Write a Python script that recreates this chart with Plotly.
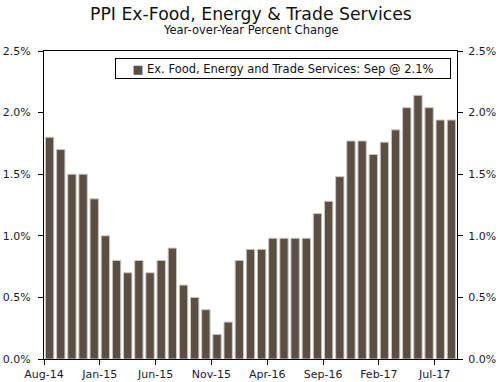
import plotly.graph_objects as go

months = ["Aug-14","Sep-14","Oct-14","Nov-14","Dec-14",
          "Jan-15","Feb-15","Mar-15","Apr-15","May-15","Jun-15","Jul-15","Aug-15","Sep-15","Oct-15","Nov-15","Dec-15",
          "Jan-16","Feb-16","Mar-16","Apr-16","May-16","Jun-16","Jul-16","Aug-16","Sep-16","Oct-16","Nov-16","Dec-16",
          "Jan-17","Feb-17","Mar-17","Apr-17","May-17","Jun-17","Jul-17","Aug-17"]
values = [1.8, 1.7, 1.5, 1.5, 1.3,
          1.0, 0.8, 0.7, 0.8, 0.7, 0.8, 0.9, 0.6, 0.5, 0.4, 0.2, 0.3,
          0.8, 0.89, 0.89, 0.98, 0.98, 0.98, 0.98, 1.18, 1.28, 1.48, 1.77, 1.77,
          1.66, 1.76, 1.86, 2.04, 2.14, 2.04, 1.94, 1.94]
tick_labels = ["Aug-14", "Jan-15", "Jun-15", "Nov-15", "Apr-16", "Sep-16", "Feb-17", "Jul-17"]
y_ticks = [0, 0.5, 1.0, 1.5, 2.0, 2.5]
y_tick_text = ["0.0%", "0.5%", "1.0%", "1.5%", "2.0%", "2.5%"]
series_name = "Ex. Food, Energy and Trade Services: Sep @ 2.1%"
title = "PPI Ex-Food, Energy & Trade Services"
subtitle = "Year-over-Year Percent Change"

bar_color = "#5b4f44"
x = list(range(len(values)))
tick_pos = [months.index(m) - 0.5 for m in tick_labels]

font = "DejaVu Sans"
fig = go.Figure()
fig.add_trace(go.Bar(
    x=x, y=values, name=series_name, showlegend=False,
    marker=dict(color=bar_color, line=dict(color="#cbc6c0", width=1)),
    width=0.75,
))
fig.add_trace(go.Scatter(x=x, y=values, yaxis="y2", mode="none",
                         showlegend=False, hoverinfo="skip"))

# plot area: x 44..457, y 51..359
fig.add_annotation(text=title, xref="paper", yref="paper", x=0.5, y=1.0 + (51 - 14) / 308,
                   xanchor="center", yanchor="middle", showarrow=False,
                   font=dict(family=font, size=17.3, color="#111"))
fig.add_annotation(text=subtitle, xref="paper", yref="paper", x=0.5, y=1.0 + (51 - 30) / 308,
                   xanchor="center", yanchor="middle", showarrow=False,
                   font=dict(family=font, size=11.5, color="#111"))
fig.add_annotation(
    text=f"<span style='color:{bar_color}'>■</span> {series_name}",
    xref="paper", yref="paper", x=(115 - 44) / 413, y=(359 - 58) / 308,
    xanchor="left", yanchor="top", showarrow=False,
    width=330, height=15, align="center", valign="middle",
    bordercolor="black", borderwidth=1, borderpad=2, bgcolor="white",
    font=dict(family=font, size=11.5, color="#111"),
)

axis_common = dict(
    ticks="outside", ticklen=5, tickcolor="black", showgrid=False, zeroline=False,
    automargin=False,
)
fig.update_layout(
    width=500, height=382,
    margin=dict(l=44, r=43, t=51, b=23),
    paper_bgcolor="white", plot_bgcolor="white",
    font=dict(family=font, size=11, color="#1a1a2e"),
    showlegend=False,
    bargap=0.25,
    xaxis=dict(
        range=[-0.5, len(values) - 0.5],
        tickmode="array", tickvals=tick_pos, ticktext=tick_labels,
        showline=True, linecolor="black", linewidth=1, mirror=True,
        **axis_common,
    ),
    yaxis=dict(
        range=[0, 2.5], tickmode="array", tickvals=y_ticks, ticktext=y_tick_text,
        showline=True, linecolor="black", linewidth=1, mirror=True,
        ticklabelstandoff=5,
        **axis_common,
    ),
    yaxis2=dict(
        range=[0, 2.5], tickmode="array", tickvals=y_ticks, ticktext=y_tick_text,
        overlaying="y", side="right", showline=False,
        ticklabelstandoff=3,
        **axis_common,
    ),
)

fig.write_html("out.html", config={"displayModeBar": False},
               post_script="document.body.style.margin='0';")
